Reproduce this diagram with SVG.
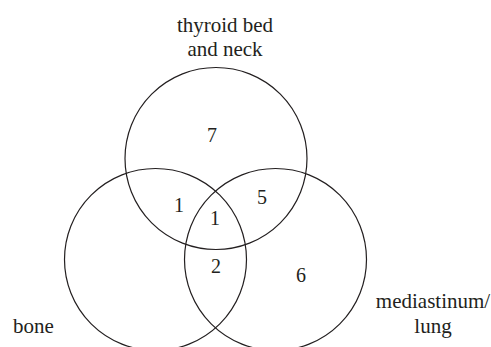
<svg xmlns="http://www.w3.org/2000/svg" width="491" height="347" viewBox="0 0 491 347">
<style>
.c{fill:none;stroke:#231f20;stroke-width:1.2}
text{font-family:"Liberation Serif","DejaVu Serif",serif;font-size:20px;fill:#231f20;text-anchor:middle}
.l{font-size:21px}
</style>
<rect width="491" height="347" fill="#fff"/>
<g id="thyroid">
<circle class="c" cx="216" cy="158.5" r="91"/>
<text class="l" x="225" y="32">thyroid bed</text>
<text class="l" x="225" y="56">and neck</text>
</g>
<g id="bone">
<circle class="c" cx="155.5" cy="259.5" r="91"/>
<text class="l" x="33.5" y="333">bone</text>
</g>
<g id="mediastinum">
<circle class="c" cx="275.5" cy="259.5" r="91"/>
<text class="l" x="433" y="308">mediastinum/</text>
<text class="l" x="433" y="333">lung</text>
</g>
<g id="counts">
<text x="212" y="141.5">7</text>
<text x="179" y="211.5">1</text>
<text x="262" y="204">5</text>
<text x="215" y="225">1</text>
<text x="216" y="272.5">2</text>
<text x="301" y="281.5">6</text>
</g>
<g id="connectors"></g>
</svg>
